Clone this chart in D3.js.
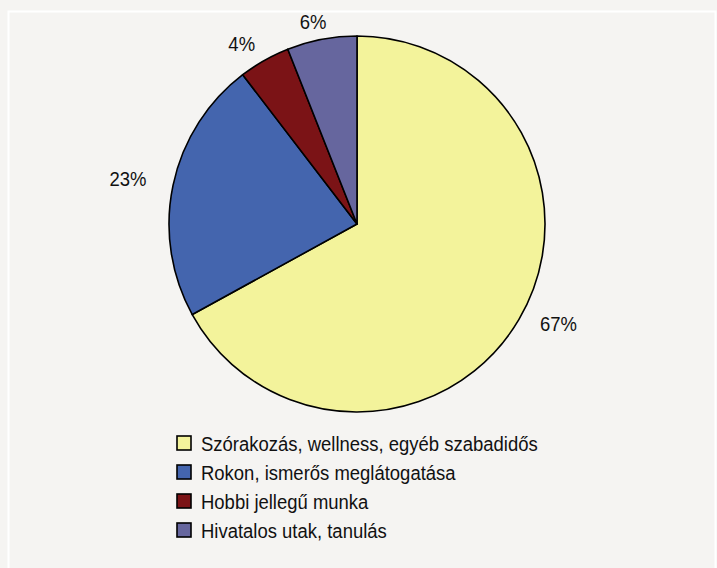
<!DOCTYPE html>
<html><head><meta charset="utf-8">
<script src="https://cdn.jsdelivr.net/npm/d3@7"></script>
<style>
html,body{margin:0;padding:0;background:#f5f4f2;}
svg{display:block;}
text{font-family:"Liberation Sans",Arial,sans-serif;fill:#111;}
</style></head>
<body>
<svg id="chart" width="717" height="568"></svg>
<script>
const categories = ["Szórakozás, wellness, egyéb szabadidős","Rokon, ismerős meglátogatása","Hobbi jellegű munka","Hivatalos utak, tanulás"];
const values = [67, 22.6, 4.4, 6];
const labels = ["67%","23%","4%","6%"];
const colors = ["#f3f39b","#4465ae","#7b1316","#66669e"];

const W = 717, H = 568;
const svg = d3.select("#chart");
svg.append("rect").attr("width", W).attr("height", H).attr("fill", "#f5f4f2");
// white frame
svg.append("path")
  .attr("d", `M8.5,${H+2} V11.5 H715.5 V${H+2}`)
  .attr("fill","none").attr("stroke","#ffffff").attr("stroke-width",2);

const cx = 357, cy = 224, r = 188;
const g = svg.append("g").attr("transform", `translate(${cx},${cy})`);
const pie = d3.pie().sort(null).value(d => d);
const arcs = pie(values);
const arc = d3.arc().innerRadius(0).outerRadius(r);
g.selectAll("path.slice").data(arcs).enter().append("path")
  .attr("class","slice")
  .attr("d", arc)
  .attr("fill", (d,i) => colors[i])
  .attr("stroke", "#000").attr("stroke-width", 1.6).attr("stroke-linejoin","round");

// labels
const lrx = 234, lry = 203, fs = 21, sx = 0.88;
g.selectAll("text.lbl").data(arcs).enter().append("text")
  .attr("class","lbl")
  .attr("transform", d => {
    const a = (d.startAngle + d.endAngle) / 2;
    const x = lrx * Math.sin(a);
    const y = -lry * Math.cos(a) - 4 + 8;
    return `translate(${x},${y}) scale(${sx},1)`;
  })
  .attr("text-anchor","middle")
  .attr("font-size", fs)
  .text((d,i) => labels[i]);

// legend
const lx = 177, ly0 = 451, ldy = 29;
const leg = svg.append("g");
const rows = leg.selectAll("g").data(categories).enter().append("g")
  .attr("transform", (d,i) => `translate(${lx},${ly0 + i*ldy})`);
rows.append("rect")
  .attr("x", 0).attr("y", -15).attr("width", 14).attr("height", 14)
  .attr("fill", (d,i) => colors[i]).attr("stroke","#000").attr("stroke-width",1.6);
rows.append("text")
  .attr("transform", `translate(24,0) scale(${sx},1)`)
  .attr("font-size", fs)
  .text(d => d);
</script>
</body></html>
